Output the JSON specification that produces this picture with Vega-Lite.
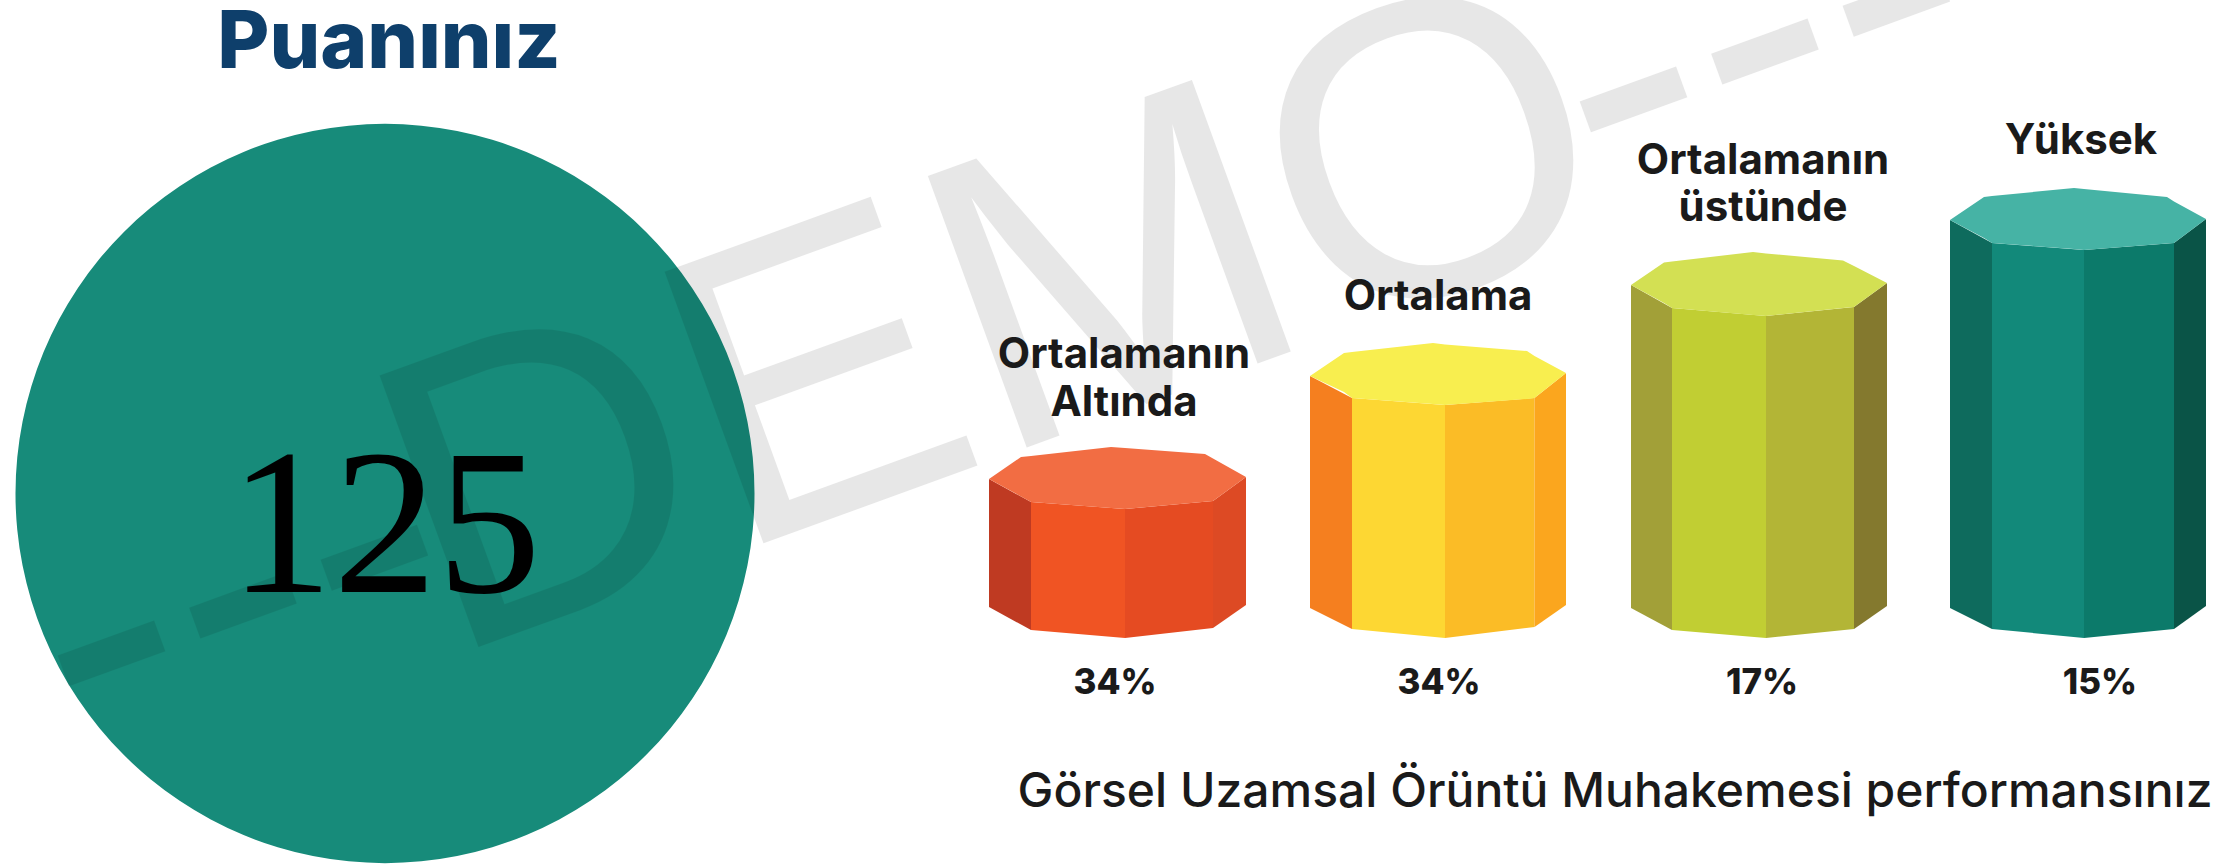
{"$schema":"https://vega.github.io/schema/vega-lite/v6.json","width":2230,"height":867,"autosize":"none","padding":0,"background":"#ffffff","view":{"stroke":null},
"datasets":{
"faces":[
{"p":"a1","x":989,"y":479,"y2":607},{"p":"a1","x":1031,"y":502,"y2":630},
{"p":"a2","x":1031,"y":502,"y2":630},{"p":"a2","x":1125,"y":509,"y2":638},
{"p":"a3","x":1125,"y":509,"y2":638},{"p":"a3","x":1213,"y":501,"y2":628},
{"p":"a4","x":1213,"y":501,"y2":628},{"p":"a4","x":1246,"y":477,"y2":605},
{"p":"a5","x":989,"y":479,"y2":479},{"p":"a5","x":1021,"y":457,"y2":496.5},{"p":"a5","x":1031,"y":456,"y2":502},{"p":"a5","x":1111,"y":447,"y2":508},{"p":"a5","x":1125,"y":448,"y2":509},{"p":"a5","x":1205,"y":454,"y2":501.7},{"p":"a5","x":1213,"y":458.5,"y2":501},{"p":"a5","x":1246,"y":477,"y2":477},
{"p":"b1","x":1310,"y":376,"y2":608},{"p":"b1","x":1352,"y":398,"y2":629},
{"p":"b2","x":1352,"y":398,"y2":629},{"p":"b2","x":1445,"y":405,"y2":638},
{"p":"b3","x":1445,"y":405,"y2":638},{"p":"b3","x":1534.5,"y":398,"y2":627},
{"p":"b4","x":1534.5,"y":398,"y2":627},{"p":"b4","x":1566,"y":373,"y2":605},
{"p":"b5","x":1310,"y":376,"y2":376},{"p":"b5","x":1344,"y":353,"y2":392},{"p":"b5","x":1352,"y":352,"y2":398},{"p":"b5","x":1433,"y":343,"y2":404},{"p":"b5","x":1445,"y":344.5,"y2":405},{"p":"b5","x":1527,"y":351,"y2":399},{"p":"b5","x":1534.5,"y":356,"y2":398},{"p":"b5","x":1566,"y":373,"y2":373},
{"p":"c1","x":1631,"y":285,"y2":608},{"p":"c1","x":1672,"y":308,"y2":630},
{"p":"c2","x":1672,"y":308,"y2":630},{"p":"c2","x":1766,"y":316,"y2":638},
{"p":"c3","x":1766,"y":316,"y2":638},{"p":"c3","x":1854,"y":307,"y2":629},
{"p":"c4","x":1854,"y":307,"y2":629},{"p":"c4","x":1887,"y":283,"y2":606},
{"p":"c5","x":1631,"y":285,"y2":285},{"p":"c5","x":1664,"y":262.5,"y2":303},{"p":"c5","x":1672,"y":261.5,"y2":308},{"p":"c5","x":1753,"y":252,"y2":315},{"p":"c5","x":1766,"y":253.5,"y2":316},{"p":"c5","x":1843,"y":260.5,"y2":308},{"p":"c5","x":1854,"y":266,"y2":307},{"p":"c5","x":1887,"y":283,"y2":283},
{"p":"d1","x":1950,"y":220,"y2":608},{"p":"d1","x":1992,"y":243,"y2":629},
{"p":"d2","x":1992,"y":243,"y2":629},{"p":"d2","x":2084,"y":250,"y2":638},
{"p":"d3","x":2084,"y":250,"y2":638},{"p":"d3","x":2174,"y":243,"y2":629},
{"p":"d4","x":2174,"y":243,"y2":629},{"p":"d4","x":2206,"y":219,"y2":606},
{"p":"d5","x":1950,"y":220,"y2":220},{"p":"d5","x":1984,"y":197,"y2":238},{"p":"d5","x":1992,"y":196,"y2":243},{"p":"d5","x":2074,"y":188,"y2":249},{"p":"d5","x":2084,"y":189,"y2":250},{"p":"d5","x":2167,"y":197,"y2":243.5},{"p":"d5","x":2174,"y":201.5,"y2":243},{"p":"d5","x":2206,"y":219,"y2":219}
],
"cats":[
{"t":"Ortalamanın","x":1124,"y":355},{"t":"Altında","x":1124,"y":403},{"t":"Ortalama","x":1438,"y":297},{"t":"Ortalamanın","x":1763,"y":161},{"t":"üstünde","x":1763,"y":208},{"t":"Yüksek","x":2081,"y":141}
],
"pcts":[
{"t":"34%","x":1115,"y":683},{"t":"34%","x":1439,"y":683},{"t":"17%","x":1762,"y":683},{"t":"15%","x":2100,"y":683}
]},
"encoding":{
"x":{"field":"x","type":"quantitative","scale":{"domain":[0,2230],"nice":false,"zero":false},"axis":null},
"y":{"field":"y","type":"quantitative","scale":{"domain":[867,0],"nice":false,"zero":false},"axis":null}
},
"layer":[
{"data":{"values":[{"score":125,"x":385,"y":493.5}]},"mark":{"type":"point","filled":true,"opacity":1,"shape":"circle","size":546121,"color":"#178B7A"}},
{"data":{"values":[{"t":"---","x":238,"y":592},{"t":"---","x":1760,"y":38}]},"mark":{"type":"text","font":"Liberation Sans","fontSize":420,"angle":340,"align":"center","baseline":"middle","color":"#000000","opacity":0.09},"encoding":{"text":{"field":"t"}}},
{"data":{"values":[{"t":"DEMO","x":995,"y":325}]},"mark":{"type":"text","font":"Liberation Sans","fontSize":420,"angle":340,"align":"center","baseline":"middle","color":"#000000","opacity":0.09},"encoding":{"text":{"field":"t"}}},
{"data":{"name":"faces"},"mark":{"type":"area","interpolate":"linear","opacity":1},"encoding":{
"y2":{"field":"y2"},
"y":{"field":"y","type":"quantitative","stack":null,"scale":{"domain":[867,0],"nice":false,"zero":false},"axis":null},
"color":{"field":"p","type":"nominal","legend":null,"scale":{"domain":["a1","a2","a3","a4","a5","b1","b2","b3","b4","b5","c1","c2","c3","c4","c5","d1","d2","d3","d4","d5"],"range":["#BF3A22","#F05423","#E54B22","#DD4A24","#F26D43","#F57F1F","#FDD733","#FBBC26","#FBA61E","#F8EE4F","#A2A038","#C1CE33","#B3B536","#84792E","#D3E053","#0E6B5D","#12897A","#0C7A6A","#0A5447","#46B3A5"]}}}},
{"data":{"values":[{"t":"Puanınız","x":389,"y":44}]},"mark":{"type":"text","font":"Inter","fontWeight":800,"fontSize":80,"align":"center","baseline":"middle","color":"#0E3F6B"},"encoding":{"text":{"field":"t"}}},
{"data":{"values":[{"t":"125","x":385,"y":592}]},"mark":{"type":"text","font":"Liberation Serif","fontSize":208,"align":"center","baseline":"alphabetic","color":"#000000"},"encoding":{"text":{"field":"t"}}},
{"data":{"name":"cats"},"mark":{"type":"text","font":"Inter","fontWeight":700,"fontSize":42,"align":"center","baseline":"middle","color":"#1A1A1A"},"encoding":{"text":{"field":"t"}}},
{"data":{"name":"pcts"},"mark":{"type":"text","font":"Inter","fontWeight":800,"fontSize":35,"align":"center","baseline":"middle","color":"#1A1A1A"},"encoding":{"text":{"field":"t"}}},
{"data":{"values":[{"t":"Görsel Uzamsal Örüntü Muhakemesi performansınız","x":1615,"y":793}]},"mark":{"type":"text","font":"Inter","fontWeight":500,"fontSize":48,"align":"center","baseline":"middle","color":"#1A1A1A"},"encoding":{"text":{"field":"t"}}}
]}
